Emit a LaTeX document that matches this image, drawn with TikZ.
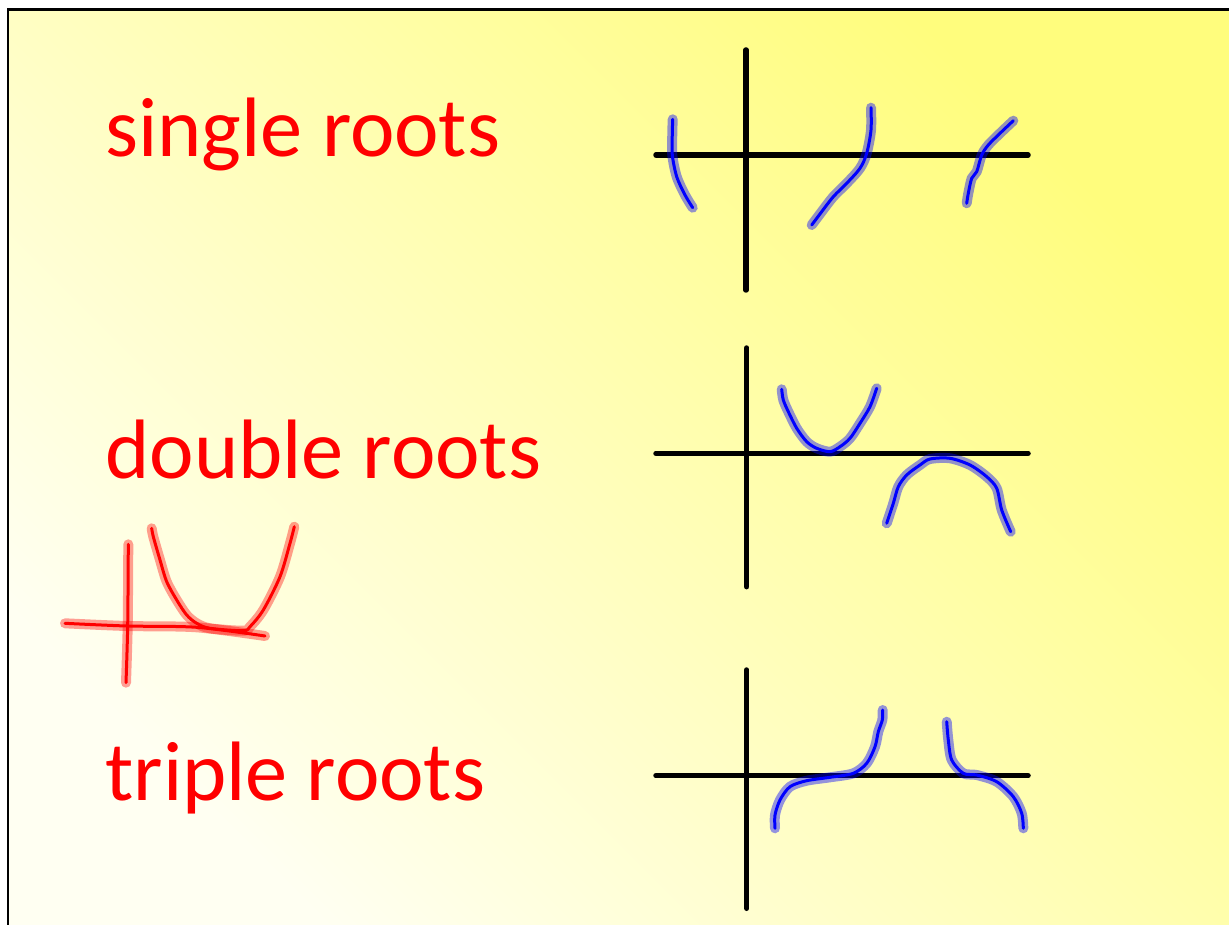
\documentclass[tikz,border=0pt]{standalone}
\usepackage{fontspec}
\setmainfont{Carlito}
\usetikzlibrary{positioning}
\definecolor{RootRed}{RGB}{255,0,0}
\definecolor{CurveBlue}{RGB}{0,0,255}
\definecolor{PaperYellow}{RGB}{255,253,125}
\definecolor{PaperLight}{RGB}{255,255,242}
\tikzset{
  rootlabel/.style={
    text=RootRed,
    font=\fontsize{48}{56}\selectfont,
    anchor=base west,
    inner sep=0pt
  },
  axisline/.style={line width=0.11cm,line cap=round,draw=black},
  halo/.style={line width=0.2cm,line cap=round,line join=round},
  bluecurve/.style={
    draw=CurveBlue,line width=0.06cm,line cap=round,line join=round,
    preaction={draw=CurveBlue,draw opacity=0.42,halo}
  },
  redsketch/.style={
    draw=RootRed,line width=0.06cm,line cap=round,line join=round,
    preaction={draw=RootRed,draw opacity=0.38,halo}
  }
}

\begin{document}
\begin{tikzpicture}[x=0.02cm,y=-0.02cm]
  % page and frame
  \useasboundingbox (0,0) rectangle (1229,925);
  \fill[white] (0,0) rectangle (1229,925);
  \shade[bottom color=PaperLight,top color=PaperYellow,shading angle=-45] (8,10) rectangle (1229,925);
  \draw[line width=0.06cm] (8,940) -- (8,10) -- (1240,10);

  % labels
  \node[rootlabel] (single) at (105,157) {single roots};
  \node[rootlabel] (double) at (105,478) {double roots};
  \node[rootlabel] (triple) at (105,800) {triple roots};

  % single roots
  \draw[axisline] (746,50) -- (746,290);
  \draw[axisline] (656,155) -- (1028,155);
  \draw[bluecurve] plot[smooth] coordinates {(672.7,119.3) (672.3,133.3) (672.3,155) (676.7,176.7) (685,195) (692.7,207.7)};
  \draw[bluecurve] plot[smooth] coordinates {(871,107.7) (871,130) (866.7,153.3) (860,168.3) (846.7,183.3) (833.3,196.7) (821.7,211.7) (811.7,225)};
  \draw[bluecurve] plot[smooth] coordinates {(1013.3,120.7) (1000,133.3) (988.3,145) (981.7,155) (976.7,171.7) (971.7,178.3) (968.3,193.3) (966.7,203.3)};

  % double roots
  \draw[axisline] (746.7,348) -- (746.7,586.7);
  \draw[axisline] (656,453.3) -- (1028,453.3);
  \draw[bluecurve] plot[smooth] coordinates {(781.7,389.3) (783.3,400) (788.3,411.7) (796.7,428.3) (806.7,441.7) (816.7,448.3) (830,451.7) (840,446.7) (850,438.3) (860,423.3) (870,406.7) (876.7,388.3)};
  \draw[bluecurve] plot[smooth] coordinates {(886.7,523.3) (893.3,503.3) (898.3,486.7) (906.7,475) (920,465) (930,459) (950,458.3) (970,465) (986.7,476.7) (996.7,488.3) (1001.7,510) (1010.7,531.7)};

  % hand sketch
  \draw[redsketch] plot[smooth] coordinates {(128.3,544.3) (127.7,625) (126,682.7)};
  \draw[redsketch] plot[smooth] coordinates {(65,623.3) (126.7,626) (196.7,627.3) (265,636)};
  \draw[redsketch] plot[smooth] coordinates {(151.7,528.3) (153.3,536.7) (160,560) (166.7,581.7) (176.7,600) (186.7,615) (196.7,623.3) (210,628.3) (243.3,630.7) (250,626.7) (263.3,610) (280,576.7) (290,543.3) (294.3,526.7)};

  % triple roots
  \draw[axisline] (746.7,670) -- (746.7,908.3);
  \draw[axisline] (656,775.7) -- (1028,775.7);
  \draw[bluecurve] plot[smooth] coordinates {(775,828.3) (775,815) (780,800) (790,786.7) (806.7,780.7) (830,777.3) (853.3,773.3) (866.7,763.3) (875,746.7) (878.3,731.7) (882.3,720) (882.7,710)};
  \draw[bluecurve] plot[smooth] coordinates {(946.7,721.7) (948.3,740) (951.7,760) (963.3,773.3) (976.7,775) (996.7,781.7) (1013.3,796.7) (1021.7,813.3) (1023.3,828.3)};
\end{tikzpicture}
\end{document}
